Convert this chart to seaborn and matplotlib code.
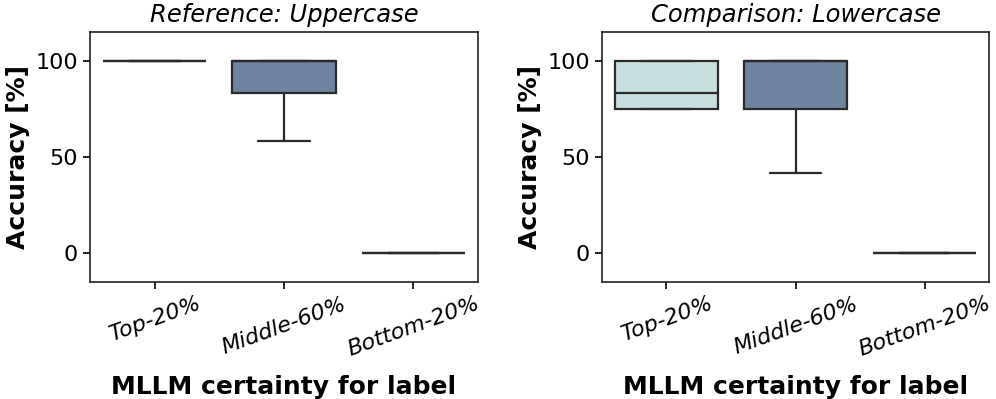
import pandas as pd
import numpy as np
import seaborn as sns
import matplotlib.pyplot as plt

# accuracy per image group (percent)
groups = ['Top-20%', 'Middle-60%', 'Bottom-20%']
upper_top = [100, 100, 100, 100, 100]
upper_mid = [58.3, 83.3, 100, 100, 100]
upper_bot = [0, 0, 0, 0, 0]
lower_top = [75, 75, 83.3, 100, 100]
lower_mid = [41.7, 75, 100, 100, 100]
lower_bot = [0, 0, 0, 0, 0]
colors = ['#c8dfe0', '#6e84a1', '#c8dfe0']


def make_df(top, mid, bot):
    rows = []
    for g, vals in zip(groups, [top, mid, bot]):
        for v in vals:
            rows.append({'group': g, 'acc': v})
    return pd.DataFrame(rows)


def main():
    sns.set_style('white')
    plt.rcParams['font.family'] = ['DejaVu Sans']
    plt.rcParams['text.color'] = 'black'
    plt.rcParams['axes.labelcolor'] = 'black'
    plt.rcParams['xtick.color'] = 'black'
    plt.rcParams['ytick.color'] = 'black'

    fig = plt.figure(figsize=(9.96, 3.99), dpi=100)
    ax1 = fig.add_axes([0.0904, 0.2932, 0.3896, 0.6266])
    ax2 = fig.add_axes([0.6044, 0.2932, 0.3886, 0.6266])

    panels = [
        (ax1, make_df(upper_top, upper_mid, upper_bot), 'Reference: Uppercase'),
        (ax2, make_df(lower_top, lower_mid, lower_bot), 'Comparison: Lowercase'),
    ]
    for ax, df, title in panels:
        sns.boxplot(data=df, x='group', y='acc', hue='group', palette=colors,
                    order=groups, whis=(0, 100), width=0.8, linewidth=1.6,
                    linecolor='#2a2a2a', saturation=1, showfliers=False,
                    legend=False, ax=ax)
        ax.set_ylim(-15, 115)
        ax.set_yticks([0, 50, 100])
        ax.set_title(title, fontsize=17.5, style='italic', pad=7)
        ax.set_ylabel('Accuracy [%]', fontsize=18, fontweight='bold')
        ax.set_xlabel('MLLM certainty for label', fontsize=18,
                      fontweight='bold', labelpad=11)
        ax.tick_params(axis='y', labelsize=16, length=5, width=1.2, left=True)
        ax.tick_params(axis='x', length=5, width=1.2, bottom=True)
        ax.set_xticks(range(len(groups)))
        ax.set_xticklabels(groups, rotation=20, fontsize=16, style='italic')
        for s in ax.spines.values():
            s.set_linewidth(1.2)
            s.set_color('#222222')

    plt.savefig('out.png', dpi=100)


main()
